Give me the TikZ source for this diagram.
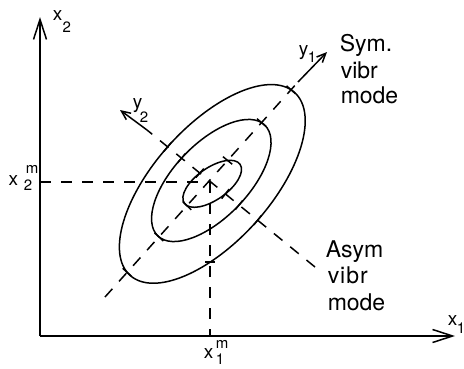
\documentclass[tikz,border=0pt]{standalone}
\usepackage{fontspec}
\setmainfont{TeX Gyre Heros}
\usetikzlibrary{arrows.meta,intersections,calc}
\begin{document}
\begin{tikzpicture}[x=1pt,y=1pt,
  line width=1.5pt,
  dsh/.style={dash pattern=on 11pt off 10pt},
  lbl/.style={inner sep=0pt, anchor=base west, font=\fontsize{23}{26}\selectfont},
  var/.style={inner sep=0pt, anchor=base west, font=\fontsize{19}{19}\selectfont},
  idx/.style={inner sep=0pt, anchor=base west, font=\fontsize{15}{15}\selectfont},
  axarrow/.style={-{Straight Barb[length=20pt,width=13pt]}},
  yarrow/.style={-{Straight Barb[length=9pt,width=8pt]}},
  tickmark/.style={line width=1.5pt}
]
\useasboundingbox (0,0) rectangle (464,368);
% axes
\coordinate (O) at (40,32);
\coordinate (X1end) at (455,32);
\coordinate (X2end) at (40,351);
\draw[axarrow] (O) -- (X1end);
\draw[axarrow] (O) -- (X2end);
% minimum point projections
\coordinate (C) at (210,186);
\coordinate (x2m) at (40,186);
\coordinate (x1m) at (210,32);
\draw[dsh] (x2m) -- (C);
\draw[dsh, name path=vert] (C) -- (x1m);
% normal coordinates
\coordinate (y1a) at (105,71);
\coordinate (y1s) at (298,286);
\coordinate (y1tip) at (327,316);
\coordinate (y2a) at (315,101);
\coordinate (y2s) at (147,238);
\coordinate (y2tip) at (120,258);
\draw[dsh, name path=y1] (y1a) -- (y1s);
\draw[yarrow] (y1s) -- (y1tip);
\draw[dsh, name path=y2] (y2a) -- (y2s);
\draw[yarrow] (y2s) -- (y2tip);
% contours
\draw[name path=outer] (212.3,184.1) ellipse [x radius=123, y radius=58, rotate=48];
\draw[name path=middle] (211.3,187.5) ellipse [x radius=77, y radius=37, rotate=46];
\draw[name path=inner] (212.2,184.2) ellipse [x radius=34, y radius=16, rotate=35];
% ticks at crossings
\path[name intersections={of=outer and y1, name=oa}];
\path[name intersections={of=outer and y2, name=ob}];
\path[name intersections={of=middle and y1, name=ma}];
\path[name intersections={of=middle and y2, name=mb}];
\path[name intersections={of=inner and y1, name=ia}];
\path[name intersections={of=inner and y2, name=ib}];
\path[name intersections={of=outer and vert, name=ov}];
\foreach \p in {oa-1,oa-2,ob-1,ob-2,ma-1,ma-2,mb-1,mb-2,ia-1,ia-2,ib-1,ib-2}{
  \draw[tickmark] ($(\p)!6pt!90:(C)$) -- ($(\p)!6pt!-90:(C)$);
}
\draw[tickmark] ($(ov-1)+(-5,0)$) -- ($(ov-1)+(5,0)$);
% labels
\node[lbl] (sym1) at (339,317) {Sym.};
\node[lbl] (sym2) at (340,290) {vibr};
\node[lbl] (sym3) at (340,265) {mode};
\node[lbl] (asym1) at (325,111) {Asym};
\node[lbl] (asym2) at (327,85) {v\kern1pt i\kern1pt b\kern1pt r};
\node[lbl] (asym3) at (327,58) {mode};
% variable labels
\node[var] (lx2) at (52,348) {x};
\node[idx] (lx2s) at (62,336) {2};
\node[var] (lx2m) at (8,183) {x};
\node[idx] (lx2mm) at (25,195) {m};
\node[idx] (lx2ms) at (23,178) {2};
\node[var] (lx1m) at (203,10) {x};
\node[idx] (lx1mm) at (215,20) {m};
\node[idx] (lx1ms) at (215,4) {1};
\node[var] (lx1) at (447,43) {x};
\node[idx] (lx1s) at (456,35) {1};
\node[var] (ly1) at (298,313) {y};
\node[idx] (ly1s) at (307,306) {1};
\node[var] (ly2) at (132,260) {y};
\node[idx] (ly2s) at (139,246) {2};
\end{tikzpicture}
\end{document}
